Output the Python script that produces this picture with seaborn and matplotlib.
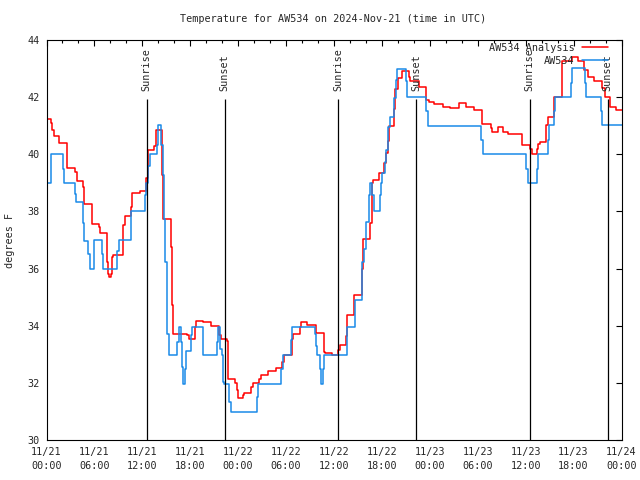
"""Temperature trace for AW534, analysis vs. observed, gnuplot-like look."""

import matplotlib
import matplotlib.pyplot as plt
import pandas as pd
import seaborn as sns

matplotlib.use("Agg")

# hours since 2024-11-21 00:00 UTC, values in degrees F (step series)
analysis_hours = [
    0.0, 0.58, 0.75, 1.0, 1.6, 2.62, 3.6, 3.76, 4.55, 4.7, 5.65, 6.6, 6.76, 7.6, 7.7,
    7.85, 8.05, 8.2, 8.35, 9.62, 9.8, 10.55, 10.7, 11.7, 12.5, 12.65, 12.75, 13.5,
    13.65, 13.75, 14.52, 14.65, 15.62, 15.72, 15.82, 17.6, 17.86, 18.6, 18.75, 19.65,
    20.65, 21.55, 21.8, 22.6, 22.7, 23.6, 23.85, 23.95, 24.65, 24.78, 25.62, 25.8,
    26.62, 26.8, 27.7, 28.68, 29.5, 29.72, 30.72, 30.9, 31.72, 31.85, 32.65, 33.7,
    34.7, 34.9, 35.8, 36.55, 36.7, 37.5, 37.65, 38.55, 39.45, 39.6, 40.45, 40.75,
    40.9, 41.65, 42.3, 42.45, 42.75, 42.9, 43.5, 43.7, 44.0, 44.55, 45.35, 45.5,
    46.6, 47.55, 47.9, 48.5, 49.67, 50.58, 51.7, 52.5, 53.55, 54.57, 55.65, 55.84,
    56.5, 57.15, 57.76, 59.5, 60.55, 60.8, 61.4, 61.5, 61.78, 62.6, 62.75, 63.5,
    64.55, 65.83, 66.6, 67.35, 67.75, 68.6, 69.5, 69.9, 70.6, 71.35, 72.0,
]
analysis_temps = [
    41.23, 41.09, 40.85, 40.64, 40.41, 39.51, 39.39, 39.08, 38.84, 38.26, 37.56, 37.46,
    37.23, 36.23, 35.82, 35.71, 35.82, 36.41, 36.47, 37.52, 37.84, 38.16, 38.63, 38.71,
    39.16, 39.8, 40.15, 40.3, 40.68, 40.84, 39.27, 37.75, 36.76, 34.71, 33.72, 33.66,
    33.52, 33.95, 34.18, 34.13, 33.99, 33.66, 33.52, 33.48, 32.14, 32.0, 31.75, 31.46,
    31.56, 31.66, 31.85, 32.01, 32.14, 32.29, 32.43, 32.52, 32.72, 32.96, 33.54, 33.72,
    33.97, 34.14, 34.01, 33.75, 33.07, 33.04, 32.96, 33.16, 33.31, 33.64, 34.38, 35.06,
    36.0, 37.03, 37.58, 38.98, 39.1, 39.35, 39.69, 40.04, 40.45, 41.0, 41.6, 42.3,
    42.67, 42.93, 42.7, 42.55, 42.37, 41.9, 41.82, 41.75, 41.67, 41.63, 41.79, 41.67,
    41.55, 41.05, 40.91, 40.77, 40.97, 40.77, 40.71, 40.32, 40.2, 40.0, 40.2, 40.35,
    40.42, 41.03, 41.29, 42.02, 43.25, 43.39, 43.25, 42.96, 42.72, 42.57, 42.31, 42.02,
    41.67, 41.55, 41.55,
]

obs_hours = [
    0.0, 0.6, 2.05, 2.15, 3.6, 3.7, 4.55, 4.65, 5.25, 5.4, 5.95, 6.95, 7.05, 8.85, 9.05,
    10.6, 12.35, 12.52, 12.75, 13.0, 13.8, 14.02, 14.36, 14.55, 14.69, 14.86, 15.03,
    15.11, 15.36, 16.36, 16.55, 16.9, 17.0, 17.1, 17.32, 17.45, 18.07, 18.25, 19.65,
    21.32, 21.5, 21.75, 21.95, 22.15, 22.25, 22.88, 23.05, 26.34, 26.5, 29.4, 29.6,
    30.65, 30.8, 33.65, 33.8, 33.9, 34.2, 34.35, 34.65, 34.8, 37.6, 38.6, 39.5, 39.78,
    39.95, 40.36, 40.53, 40.8, 41.0, 41.7, 41.85, 42.03, 42.37, 42.53, 42.78, 42.95,
    43.5, 43.78, 43.95, 45.04, 45.2, 47.54, 47.71, 54.45, 54.6, 60.1, 60.25, 61.4,
    61.5, 62.75, 62.9, 63.55, 63.65, 65.65, 65.75, 67.4, 67.5, 69.4, 69.5, 72.0,
]
obs_temps = [
    38.98, 40.0, 39.5, 39.0, 38.6, 38.32, 37.6, 36.98, 36.5, 36.0, 37.0, 36.5, 36.0,
    36.6, 37.0, 38.0, 38.57, 38.98, 39.6, 40.0, 40.32, 41.03, 40.32, 39.27, 37.75,
    36.23, 34.71, 33.72, 32.98, 33.42, 33.97, 33.42, 32.55, 31.96, 32.49, 33.13, 33.66,
    33.97, 32.98, 33.42, 33.97, 33.19, 32.96, 32.02, 31.96, 31.32, 30.99, 31.5, 31.96,
    32.5, 32.99, 33.5, 33.97, 33.7, 33.3, 32.99, 32.5, 31.96, 32.5, 32.99, 33.95,
    34.89, 36.23, 36.7, 37.64, 38.57, 38.98, 38.57, 38.02, 38.57, 38.98, 39.33, 39.74,
    40.15, 40.97, 41.32, 41.96, 42.6, 42.99, 42.55, 41.99, 41.5, 41.0, 40.5, 40.0,
    39.5, 39.01, 39.5, 40.0, 40.5, 41.03, 41.5, 42.02, 42.5, 43.02, 42.5, 42.02, 41.5,
    41.03, 41.03,
]

sun_hours = [12.55, 22.3, 36.53, 46.28, 60.52, 70.27]
sun_labels = ["Sunrise", "Sunset", "Sunrise", "Sunset", "Sunrise", "Sunset"]

tick_hours = [0, 6, 12, 18, 24, 30, 36, 42, 48, 54, 60, 66, 72]
tick_labels = [
    "11/21\n00:00", "11/21\n06:00", "11/21\n12:00", "11/21\n18:00",
    "11/22\n00:00", "11/22\n06:00", "11/22\n12:00", "11/22\n18:00",
    "11/23\n00:00", "11/23\n06:00", "11/23\n12:00", "11/23\n18:00",
    "11/24\n00:00",
]

RED = "#ff0000"
BLUE = "#1a8ae8"
FS = 7.3

sns.set_theme(style="white")
plt.rcParams["font.family"] = ["DejaVu Sans Mono", "DejaVu Sans"]
plt.rcParams["axes.edgecolor"] = "black"
plt.rcParams["axes.linewidth"] = 0.8

analysis = pd.DataFrame({"hour": analysis_hours, "temp": analysis_temps})
obs = pd.DataFrame({"hour": obs_hours, "temp": obs_temps})

fig = plt.figure(figsize=(6.4, 4.8), dpi=100)
ax = fig.add_axes([46.5 / 640, 40 / 480, 575 / 640, 400 / 480])

sns.lineplot(data=analysis, x="hour", y="temp", ax=ax, color=RED, lw=1.1,
             drawstyle="steps-post", label="AW534 Analysis")
sns.lineplot(data=obs, x="hour", y="temp", ax=ax, color=BLUE, lw=1.1,
             drawstyle="steps-post", label="AW534")

# sunrise / sunset markers
ax.vlines(sun_hours, 30, 41.95, color="black", lw=0.9)
for h, lab in zip(sun_hours, sun_labels):
    ax.text(h, 42.2, lab, rotation=90, ha="center", va="bottom", fontsize=FS)

ax.set_xlim(0, 72)
ax.set_ylim(30, 44)
ax.set_xticks(tick_hours)
ax.set_xticklabels(tick_labels, fontsize=FS, linespacing=1.45)
ax.set_xticks(range(0, 73, 2), minor=True)
ax.set_yticks(range(30, 45, 2))
ax.set_yticklabels([str(v) for v in range(30, 45, 2)], fontsize=FS)
ax.tick_params(which="both", direction="in", top=True, right=True, color="black", width=0.8)
ax.tick_params(which="major", length=4, pad=5)
ax.tick_params(which="minor", length=2.2)
ax.set_xlabel("")
ax.set_ylabel("")

fig.text(10 / 640, 0.5, "degrees F", rotation=90, ha="center", va="center", fontsize=FS)
fig.text(333.5 / 640, 1 - 19 / 480, "Temperature for AW534 on 2024-Nov-21 (time in UTC)",
         ha="center", va="center", fontsize=FS)

ax.legend(loc="upper right", bbox_to_anchor=(608 / 640, 1 - 43 / 480),
          bbox_transform=fig.transFigure, frameon=False, markerfirst=False,
          fontsize=FS, handlelength=2.6, handletextpad=0.7, labelspacing=0.25,
          borderpad=0, borderaxespad=0)

fig.savefig("out.png", dpi=100, facecolor="white")
